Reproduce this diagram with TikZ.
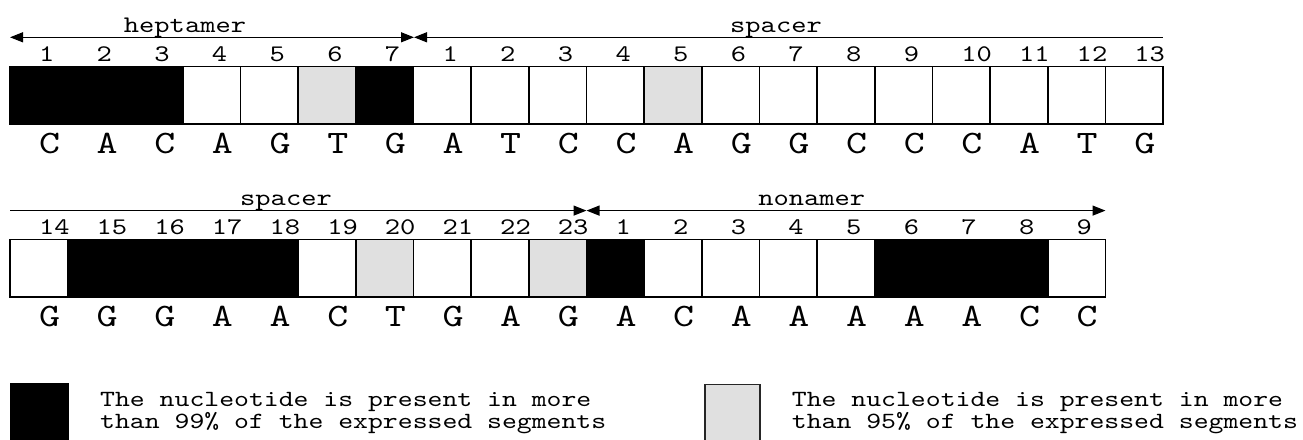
\documentclass[tikz,border=0pt]{standalone}
\usepackage{fontspec}
\newfontfamily\cour{lmmono10-regular.otf}[FakeStretch=1.222]
\usetikzlibrary{arrows.meta}
\definecolor{lgray}{RGB}{224,224,224}
\begin{document}
\begin{tikzpicture}[x=1pt,y=-1pt,
  cell/.style={draw=black,line width=1.6pt,minimum width=57.65pt,minimum height=57.7pt,inner sep=0pt,outer sep=0pt},
  num/.style={font=\cour\fontsize{23.8}{26}\selectfont,anchor=base west,inner sep=0pt},
  nuc/.style={font=\cour\fontsize{32.7}{36}\selectfont,anchor=base west,inner sep=0pt},
  lab/.style={font=\cour\fontsize{23.8}{26}\selectfont,anchor=base,inner sep=0pt},
  leg/.style={font=\cour\fontsize{23.2}{20.6}\selectfont,anchor=base west,inner sep=0pt,align=left},
  span/.style={line width=1.3pt},
  tipl/.style={{Triangle[length=13pt,width=10pt]}-},
  tipr/.style={-{Triangle[length=13pt,width=10pt]}},
  tipb/.style={{Triangle[length=13pt,width=10pt]}-{Triangle[length=13pt,width=10pt]}}
]
\clip (0,0) rectangle (1303,439);
\fill[white] (0,0) rectangle (1303,439);

% ---------- row 1 ----------
\foreach \c [count=\i] in {black,black,black,white,white,lgray,black,white,white,white,white,lgray,white,white,white,white,white,white,white,white}
  \node[cell,fill=\c] (a\i) at ({10+(\i-0.5)*57.65},95.15) {};
\foreach \n [count=\i] in {1,2,3,4,5,6,7,1,2,3,4,5,6,7,8,9,10,11,12,13}
  \node[num] (na\i) at ({10+(\i-0.5)*57.65},61.5) {\n};
\foreach \l [count=\i] in {C,A,C,A,G,T,G,A,T,C,C,A,G,G,C,C,C,A,T,G}
  \node[nuc] (la\i) at ({10+(\i-0.5)*57.65},153.3) {\l};

\coordinate (h0) at (10,37.3);
\coordinate (h1) at (414,37.3);
\coordinate (s1e) at (1163,37.3);
\draw[span,tipb] (h0) -- (h1);
\draw[span,tipl] (h1) -- (s1e);
\node[lab] (hep) at (185,32.3) {heptamer};
\node[lab] (sp1) at (776,32.3) {spacer};

% ---------- row 2 ----------
\foreach \c [count=\i] in {white,black,black,black,black,white,lgray,white,white,lgray,black,white,white,white,white,black,black,black,white}
  \node[cell,fill=\c] (b\i) at ({10+(\i-0.5)*57.65},268.3) {};
\foreach \n [count=\i] in {14,15,16,17,18,19,20,21,22,23,1,2,3,4,5,6,7,8,9}
  \node[num] (nb\i) at ({10+(\i-0.5)*57.65},234.8) {\n};
\foreach \l [count=\i] in {G,G,G,A,A,C,T,G,A,G,A,C,A,A,A,A,A,C,C}
  \node[nuc] (lb\i) at ({10+(\i-0.5)*57.65},326.7) {\l};

\coordinate (s2s) at (10,210.6);
\coordinate (s2e) at (586.5,210.6);
\coordinate (n2e) at (1105.5,210.6);
\draw[span,tipr] (s2s) -- (s2e);
\draw[span,tipb] (s2e) -- (n2e);
\node[lab] (sp2) at (286,205.6) {spacer};
\node[lab] (non) at (811.7,205.6) {nonamer};

% ---------- legend ----------
\node[fill=black,inner sep=0pt,minimum width=59pt,minimum height=70pt,anchor=north west] (legk) at (10,382.7) {};
\node[fill=lgray,draw=black!85,line width=1.6pt,inner sep=0pt,minimum width=55pt,minimum height=70pt,anchor=north west] (legg) at (704.1,383.5) {};
\node[leg] (lt) at (100,428.3) {The nucleotide is present in more\\than 99\% of the expressed segments};
\node[leg] (rt) at (791.7,428.3) {The nucleotide is present in more\\than 95\% of the expressed segments};
\end{tikzpicture}
\end{document}
